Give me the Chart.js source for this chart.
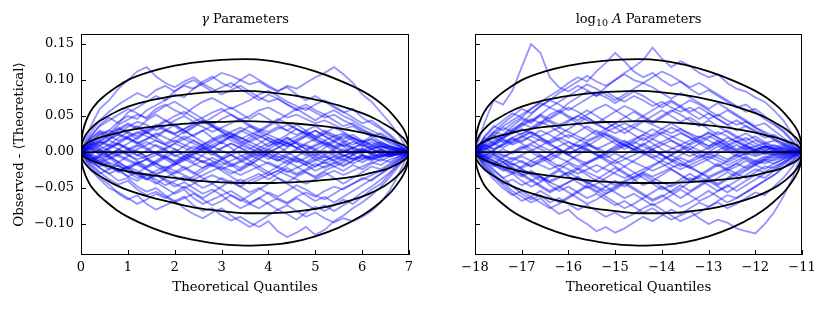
<!doctype html>
<html>
<head>
<title>Q-Q residuals</title>
<script src="https://cdn.jsdelivr.net/npm/chart.js@4.4.1/dist/chart.umd.min.js"></script>
<style>
  body { margin: 0; background: #fff; }
  #wrap { position: relative; width: 830px; height: 309px; }
  canvas { position: absolute; top: 0; }
</style>
</head>
<body>
<div id="wrap">
  <canvas id="gammaChart" width="420" height="309" style="left:0"></canvas>
  <canvas id="logAChart" width="410" height="309" style="left:420px"></canvas>
</div>
<script>
// x positions of the walk samples
var gammaQuantiles = [0,0.2,0.4,0.6,0.8,1.0,1.2,1.4,1.6,1.8,2.0,2.2,2.4,2.6,2.8,3.0,3.2,3.4,3.6,3.8,4.0,4.2,4.4,4.6,4.8,5.0,5.2,5.4,5.6,5.8,6.0,6.2,6.4,6.6,6.8,7.0];
var logAQuantiles = [-18,-17.8,-17.6,-17.4,-17.2,-17,-16.8,-16.6,-16.4,-16.2,-16,-15.8,-15.6,-15.4,-15.2,-15,-14.8,-14.6,-14.4,-14.2,-14,-13.8,-13.6,-13.4,-13.2,-13,-12.8,-12.6,-12.4,-12.2,-12,-11.8,-11.6,-11.4,-11.2,-11];

// observed - theoretical, in units of 0.001
var gammaWalks = [
  [0,35,60,72,88,100,112,118,105,96,90,98,104,95,88,80,86,92,84,76,70,74,66,58,62,55,48,52,44,38,30,26,20,14,8,0],
  [0,12,25,30,42,50,46,58,65,72,80,76,88,95,102,110,106,100,94,98,90,84,92,88,96,104,110,118,108,96,80,70,55,40,22,0],
  [0,20,38,48,40,55,62,70,78,72,85,92,88,98,105,96,90,100,108,100,92,85,90,80,72,78,70,62,55,60,48,40,32,22,10,0],
  [0,18,30,25,38,45,52,48,60,66,58,52,62,70,75,68,60,66,72,80,85,78,70,64,58,66,72,64,56,48,40,44,34,24,12,0],
  [0,10,22,30,24,35,42,38,30,36,44,50,42,48,55,60,52,45,50,58,62,55,48,52,46,40,44,38,32,36,28,22,26,18,8,0],
  [0,8,15,10,20,28,22,30,36,30,25,32,40,35,28,34,40,46,38,32,28,35,30,24,30,36,28,22,26,20,14,18,12,8,4,0],
  [0,15,8,18,25,20,12,18,26,20,14,22,16,10,18,24,16,10,4,12,20,14,8,16,22,15,10,16,8,14,10,4,8,2,5,0],
  [0,5,-4,6,12,4,-5,2,10,4,-6,0,8,2,-4,5,12,6,-2,4,-6,-12,-4,2,-5,4,10,2,-6,0,6,-2,4,-3,2,0],
  [0,-6,-14,-8,-18,-24,-16,-10,-20,-26,-18,-12,-6,-14,-20,-10,-4,-12,-18,-8,-2,-10,-16,-8,-14,-20,-12,-6,-12,-4,-10,-6,-2,-6,-2,0],
  [0,-12,-22,-30,-24,-34,-40,-32,-38,-46,-40,-34,-42,-50,-44,-36,-42,-48,-40,-34,-28,-36,-42,-34,-28,-34,-26,-20,-26,-18,-24,-16,-10,-14,-6,0],
  [0,-15,-28,-38,-45,-40,-52,-60,-55,-62,-70,-64,-58,-66,-74,-68,-60,-66,-72,-78,-70,-64,-70,-62,-56,-62,-54,-48,-52,-44,-38,-32,-26,-18,-10,0],
  [0,-10,-22,-30,-40,-36,-48,-55,-50,-60,-68,-62,-74,-82,-78,-88,-95,-90,-98,-104,-96,-110,-118,-112,-104,-115,-108,-96,-88,-78,-70,-60,-48,-34,-18,0],
  [0,-20,-35,-45,-58,-66,-60,-72,-80,-74,-68,-78,-86,-92,-84,-78,-88,-96,-104,-96,-88,-80,-86,-94,-84,-76,-82,-74,-66,-72,-62,-52,-44,-30,-16,0],
  [0,-8,-16,-24,-18,-28,-36,-30,-42,-50,-58,-52,-64,-72,-66,-60,-70,-78,-72,-64,-56,-62,-54,-46,-52,-60,-66,-58,-50,-44,-36,-40,-30,-20,-10,0],
  [0,6,14,24,32,26,18,28,36,44,38,30,22,30,20,12,22,30,24,16,8,16,24,32,26,18,26,34,28,20,14,22,14,8,4,0],
  [0,-4,4,-6,-14,-6,2,-8,-16,-24,-16,-6,2,10,2,-8,-16,-22,-14,-4,4,12,20,12,4,-4,6,14,8,-2,4,-4,2,-4,0,0],
  [0,22,36,44,52,60,54,46,56,64,70,62,54,46,38,46,52,44,36,30,38,46,40,32,24,30,22,16,24,18,12,18,10,6,2,0],
  [0,-18,-30,-24,-14,-22,-30,-20,-12,-4,4,-6,-14,-4,6,14,6,-4,-12,-20,-28,-20,-12,-20,-28,-36,-28,-36,-44,-36,-28,-20,-24,-16,-8,0],
  [0,14,26,18,30,38,32,44,52,44,36,26,34,42,36,28,20,12,20,28,36,44,52,60,52,44,52,44,36,40,32,24,20,12,6,0],
  [0,-14,-6,-16,-26,-34,-28,-36,-44,-36,-28,-20,-28,-36,-44,-52,-60,-68,-60,-52,-44,-36,-44,-52,-60,-68,-62,-70,-62,-54,-46,-38,-30,-22,-12,0],
  [0,26,44,56,66,74,82,76,86,92,84,94,100,92,84,90,96,88,80,72,80,74,66,60,66,58,52,58,50,44,36,30,24,16,8,0],
  [0,-24,-38,-50,-56,-64,-72,-66,-58,-64,-56,-48,-56,-64,-56,-48,-40,-48,-56,-50,-58,-66,-72,-64,-72,-80,-74,-82,-74,-66,-56,-48,-38,-28,-14,0],
  [0,4,10,16,10,4,-4,-10,-4,4,12,18,12,6,14,20,26,20,14,8,2,-6,-12,-6,2,8,14,8,2,-4,2,8,4,-2,2,0],
  [0,-6,-12,-4,4,-4,-12,-20,-14,-6,-14,-22,-30,-22,-14,-22,-30,-24,-16,-24,-32,-26,-18,-10,-18,-26,-20,-14,-20,-12,-6,-12,-6,-2,-4,0],
  [0,10,18,26,34,28,36,28,20,12,20,28,36,44,36,28,20,28,36,28,20,12,20,12,4,10,16,8,14,6,12,6,10,4,2,0],
  [0,-10,-4,4,12,20,14,6,-2,-10,-18,-10,-2,6,-2,-10,-18,-26,-18,-10,-2,6,14,6,-2,-10,-4,-12,-6,2,-4,-10,-6,-2,-4,0],
  [0,8,2,-6,-14,-22,-16,-24,-32,-26,-34,-40,-34,-26,-18,-26,-34,-42,-36,-30,-38,-30,-22,-30,-24,-16,-22,-16,-10,-16,-10,-4,-8,-4,-2,0],
  [0,18,28,22,32,40,34,26,34,42,50,56,48,40,48,56,62,54,46,54,46,38,30,38,30,22,30,24,18,24,16,10,14,8,4,0],
  [0,-4,-10,-18,-26,-20,-14,-22,-16,-8,0,8,16,8,0,-8,0,8,16,24,16,8,0,-8,-14,-6,2,-4,-10,-4,2,-2,-6,-2,-1,0],
  [0,12,4,-4,4,12,20,28,20,30,38,30,22,14,6,14,22,14,6,-2,-10,-2,6,14,22,30,22,14,22,16,8,14,8,4,2,0],
  [0,-6,-14,-20,-28,-22,-30,-38,-32,-40,-48,-42,-50,-58,-52,-60,-54,-62,-70,-64,-72,-80,-74,-82,-90,-84,-92,-98,-92,-96,-90,-82,-70,-52,-28,0],
  [0,-3,-8,-4,2,-4,-10,-6,0,6,12,6,0,-6,-12,-18,-12,-6,0,6,12,18,12,6,0,-6,-12,-6,0,6,2,-2,2,-2,1,0],
  [0,6,12,18,24,18,12,18,24,30,24,18,24,30,36,30,24,18,24,30,24,18,12,18,24,18,12,6,12,6,10,4,8,4,2,0],
  [0,-8,-14,-20,-26,-20,-26,-32,-26,-20,-26,-32,-38,-32,-26,-20,-26,-32,-26,-20,-14,-20,-26,-32,-26,-20,-14,-20,-14,-8,-14,-8,-12,-6,-3,0],
  [0,4,-2,-8,-2,4,10,4,-2,-8,-14,-8,-2,4,10,16,22,16,10,4,-2,-8,-2,4,10,4,-2,4,10,4,-2,4,0,-2,0,0],
  [0,-10,-16,-10,-4,2,8,14,8,2,-4,-10,-16,-22,-16,-10,-4,2,-4,-10,-16,-22,-28,-22,-16,-10,-16,-10,-4,-10,-4,-8,-4,-6,-2,0],
  [0,10,16,22,16,22,28,22,16,10,16,10,4,10,16,22,28,34,28,22,16,10,16,22,28,22,16,22,16,10,16,10,6,8,4,0],
  [0,2,8,2,-4,-10,-16,-10,-16,-22,-16,-10,-4,2,8,2,-4,-10,-4,2,8,14,8,14,8,2,-4,2,-4,-10,-4,-8,-2,-4,-2,0],
  [0,-12,-6,0,-6,-12,-18,-24,-30,-24,-30,-24,-18,-12,-18,-24,-18,-12,-6,0,-6,-12,-6,-12,-18,-12,-6,-12,-18,-12,-6,-10,-4,-6,-2,0],
  [0,8,14,8,14,20,26,32,38,32,26,32,38,44,38,32,26,20,14,20,26,32,38,32,26,20,26,20,14,20,14,8,12,6,4,0],
  [0,-2,4,10,4,-2,4,10,16,10,4,-2,-8,-14,-8,-14,-20,-14,-8,-2,4,-2,-8,-14,-8,-2,-8,-2,4,-2,4,0,4,0,2,0],
  [0,-14,-20,-14,-20,-26,-32,-38,-32,-38,-44,-50,-44,-38,-32,-38,-44,-38,-44,-38,-32,-26,-32,-38,-44,-38,-32,-26,-32,-26,-20,-14,-18,-10,-6,0],
  [0,6,0,6,12,6,0,-6,0,-6,-12,-6,0,6,0,6,12,6,0,-6,0,6,12,6,12,18,12,6,0,6,0,4,-2,2,0,0]
];

var logAWalks = [
  [0,40,72,66,85,118,150,138,104,90,84,92,86,78,84,76,70,78,72,64,70,62,56,62,54,46,52,44,38,42,34,28,22,16,8,0],
  [0,14,28,24,36,46,40,52,62,56,68,76,84,78,90,100,110,118,128,145,130,118,126,120,110,104,108,96,88,84,76,70,58,44,24,0],
  [0,20,34,44,54,48,60,70,78,86,96,104,98,112,124,138,126,112,104,110,100,92,98,88,80,86,78,70,62,66,56,46,38,28,14,0],
  [0,10,22,34,28,40,52,64,72,82,90,98,106,98,92,100,108,100,96,104,112,106,98,90,96,88,80,72,64,56,60,50,40,30,16,0],
  [0,-16,-30,-42,-54,-62,-70,-64,-76,-86,-80,-92,-100,-110,-104,-112,-106,-98,-90,-96,-88,-80,-86,-78,-70,-76,-68,-60,-64,-56,-48,-40,-32,-22,-12,0],
  [0,-8,-18,-26,-20,-32,-40,-34,-46,-54,-48,-56,-64,-58,-66,-74,-68,-76,-84,-78,-86,-94,-88,-82,-92,-100,-94,-98,-106,-110,-113,-100,-84,-62,-36,0],
  [0,-12,-24,-36,-48,-58,-66,-60,-70,-64,-72,-80,-74,-82,-90,-84,-92,-86,-78,-72,-80,-88,-96,-90,-84,-76,-70,-78,-72,-64,-56,-60,-48,-36,-20,0],
  [0,-20,-34,-46,-58,-68,-62,-54,-62,-70,-62,-54,-46,-54,-62,-70,-78,-72,-64,-56,-48,-56,-64,-56,-48,-40,-48,-56,-48,-40,-32,-36,-26,-18,-8,0],
  [0,12,24,18,30,38,46,40,52,58,50,44,52,60,66,58,50,42,50,58,66,72,64,56,62,54,46,38,44,36,30,24,18,12,6,0],
  [0,-6,2,10,18,12,4,-4,-12,-4,6,14,22,30,24,16,8,16,24,32,24,16,8,0,-8,0,8,2,-6,-2,4,-2,2,-2,0,0],
  [0,8,16,24,32,40,34,42,36,28,20,28,36,28,20,12,4,12,20,12,4,-4,4,12,20,28,20,12,4,10,16,10,4,6,2,0],
  [0,-10,-20,-14,-24,-32,-26,-34,-42,-36,-28,-36,-44,-38,-30,-22,-30,-38,-46,-40,-32,-24,-32,-40,-34,-26,-18,-26,-20,-12,-18,-12,-6,-8,-4,0],
  [0,6,-2,-10,-18,-12,-20,-12,-4,4,-4,-12,-20,-28,-20,-12,-4,4,12,4,-4,-12,-20,-12,-4,-12,-20,-12,-4,-10,-16,-10,-4,-6,-2,0],
  [0,16,28,40,50,60,54,64,72,66,58,66,74,82,76,68,76,84,78,70,62,70,62,54,46,54,46,38,30,36,28,20,24,16,8,0],
  [0,-14,-26,-36,-30,-40,-48,-42,-34,-26,-34,-42,-50,-44,-36,-28,-20,-28,-36,-44,-52,-46,-38,-30,-38,-46,-54,-48,-40,-32,-24,-28,-20,-14,-6,0],
  [0,4,12,6,14,22,16,8,16,24,32,40,48,40,32,40,48,56,48,40,48,56,64,72,66,58,50,58,50,42,34,26,18,12,6,0],
  [0,-4,-12,-20,-28,-20,-12,-4,-12,-20,-12,-4,4,-4,-12,-20,-28,-36,-28,-20,-12,-4,-12,-20,-28,-36,-44,-36,-28,-20,-12,-16,-10,-6,-2,0],
  [0,22,36,30,40,48,42,50,42,34,42,50,58,50,42,34,26,34,42,50,58,50,42,48,40,32,24,30,22,16,22,14,8,10,4,0],
  [0,-18,-32,-44,-38,-46,-40,-48,-56,-50,-42,-34,-42,-50,-58,-52,-44,-52,-60,-68,-62,-54,-46,-54,-46,-38,-46,-38,-30,-36,-28,-20,-22,-14,-6,0],
  [0,10,4,12,20,14,22,30,24,16,8,0,8,16,24,18,10,2,10,18,26,34,28,20,12,4,12,20,14,8,2,8,4,0,2,0],
  [0,-8,-16,-8,0,8,0,-8,-16,-24,-32,-24,-16,-8,0,8,16,8,0,-8,-16,-24,-32,-40,-32,-24,-16,-24,-16,-8,-14,-8,-2,-4,-2,0],
  [0,14,26,36,44,52,60,68,62,70,78,86,94,88,80,72,80,88,96,90,82,74,82,76,68,60,68,60,52,44,36,40,30,20,10,0],
  [0,-12,-4,-14,-22,-30,-38,-46,-54,-48,-56,-64,-72,-66,-58,-50,-42,-50,-58,-66,-60,-68,-76,-70,-62,-54,-62,-70,-64,-56,-48,-40,-32,-22,-12,0],
  [0,2,10,18,12,20,28,20,12,4,-4,4,12,4,-4,-12,-20,-12,-4,4,-4,-12,-4,4,12,20,28,22,14,20,12,6,10,4,2,0],
  [0,20,12,22,30,24,32,40,48,56,48,40,32,24,32,40,32,24,16,24,32,40,32,24,16,8,16,8,14,8,2,8,4,2,0,0],
  [0,-22,-38,-50,-60,-54,-62,-70,-78,-72,-64,-56,-48,-56,-48,-40,-48,-40,-32,-40,-48,-56,-50,-42,-34,-42,-36,-28,-34,-26,-18,-24,-16,-10,-4,0],
  [0,6,12,20,28,36,44,52,46,54,62,56,48,40,48,56,64,58,50,42,50,58,52,44,36,44,36,28,20,26,18,12,16,10,4,0],
  [0,-6,-14,-22,-16,-24,-32,-40,-32,-24,-16,-24,-32,-40,-48,-56,-64,-58,-66,-74,-68,-60,-52,-60,-68,-62,-54,-46,-54,-46,-38,-30,-24,-16,-8,0],
  [0,4,10,16,10,16,22,16,10,4,-2,4,10,4,10,16,10,4,-2,-8,-2,4,10,16,22,16,10,4,10,4,8,2,6,2,1,0],
  [0,-6,-12,-18,-12,-6,-12,-18,-24,-18,-24,-30,-24,-18,-24,-30,-36,-30,-24,-18,-12,-18,-24,-18,-12,-6,-12,-18,-12,-6,-12,-6,-8,-4,-2,0],
  [0,10,4,10,16,22,28,22,28,34,28,22,16,22,28,34,40,34,28,22,28,22,16,10,16,22,16,10,16,10,4,8,4,6,2,0],
  [0,-4,2,-4,-10,-4,2,8,2,8,14,8,2,-4,-10,-16,-10,-4,2,-4,-10,-4,2,8,2,-4,2,8,2,-4,2,-2,2,-2,0,0],
  [0,8,14,20,26,32,26,20,14,20,14,8,14,20,26,20,14,8,2,8,14,20,26,20,14,8,14,8,2,8,2,6,2,4,2,0],
  [0,-10,-16,-22,-28,-34,-28,-34,-40,-34,-28,-22,-28,-34,-40,-46,-40,-34,-28,-34,-28,-22,-16,-22,-28,-34,-28,-22,-16,-22,-16,-10,-12,-8,-4,0],
  [0,2,-4,-10,-16,-22,-16,-10,-4,2,-4,-10,-16,-10,-4,2,8,14,8,2,-4,-10,-16,-22,-16,-10,-4,-10,-4,2,-4,0,-4,-2,0,0],
  [0,14,20,14,20,26,32,38,44,38,44,50,44,38,32,26,32,38,44,38,32,26,32,26,20,26,20,14,20,14,8,12,6,8,4,0],
  [0,-2,-8,-14,-8,-14,-20,-14,-8,-2,4,10,4,-2,-8,-2,-8,-14,-20,-26,-20,-14,-8,-14,-8,-2,-8,-14,-8,-2,-6,-2,-4,-2,-1,0],
  [0,6,0,-6,0,6,12,18,12,18,24,18,12,6,0,6,12,18,24,18,12,6,0,-6,0,6,12,6,0,6,0,4,0,2,0,0],
  [0,-12,-18,-24,-30,-24,-30,-36,-42,-48,-42,-36,-42,-48,-54,-48,-42,-36,-30,-36,-42,-48,-42,-36,-42,-36,-30,-24,-30,-24,-18,-12,-16,-10,-6,0],
  [0,-8,-2,4,-2,4,10,4,-2,-8,-14,-20,-14,-8,-2,4,10,4,-2,4,10,16,10,4,-2,-8,-2,4,-2,4,-2,2,-2,0,0,0]
];

// confidence bands (1, 2, 3 sigma)
var bandGammaX = [0,0.02,0.05,0.1,0.2,0.35,0.5,0.75,1,1.5,2,2.5,3,3.5,4,4.5,5,5.5,6,6.25,6.5,6.65,6.8,6.9,6.95,6.98,7];
var bandLogAX = [-18,-17.98,-17.95,-17.9,-17.8,-17.65,-17.5,-17.25,-17,-16.5,-16,-15.5,-15,-14.5,-14,-13.5,-13,-12.5,-12,-11.75,-11.5,-11.35,-11.2,-11.1,-11.05,-11.02,-11];
var band1Upper = [0,0.005,0.008,0.011,0.015,0.019,0.022,0.026,0.030,0.035,0.038,0.041,0.042,0.043,0.042,0.040,0.037,0.033,0.027,0.023,0.019,0.016,0.012,0.009,0.006,0.004,0];
var band2Upper = [0,0.011,0.017,0.024,0.032,0.041,0.047,0.056,0.063,0.072,0.078,0.082,0.084,0.085,0.083,0.079,0.073,0.065,0.054,0.047,0.038,0.032,0.024,0.018,0.013,0.008,0];
var band3Upper = [0,0.020,0.031,0.042,0.056,0.069,0.078,0.090,0.100,0.112,0.120,0.125,0.128,0.129,0.127,0.121,0.112,0.100,0.085,0.075,0.062,0.052,0.040,0.030,0.022,0.014,0];
var band1Lower = [0,-0.004,-0.006,-0.008,-0.011,-0.015,-0.018,-0.023,-0.027,-0.032,-0.036,-0.040,-0.042,-0.043,-0.043,-0.042,-0.040,-0.037,-0.032,-0.028,-0.024,-0.020,-0.015,-0.011,-0.008,-0.005,0];
var band2Lower = [0,-0.008,-0.012,-0.017,-0.024,-0.031,-0.037,-0.046,-0.053,-0.063,-0.071,-0.078,-0.082,-0.085,-0.085,-0.083,-0.079,-0.072,-0.062,-0.055,-0.046,-0.039,-0.030,-0.022,-0.016,-0.010,0];
var band3Lower = [0,-0.015,-0.024,-0.033,-0.046,-0.058,-0.067,-0.080,-0.090,-0.105,-0.116,-0.123,-0.128,-0.130,-0.129,-0.125,-0.117,-0.105,-0.088,-0.077,-0.063,-0.053,-0.040,-0.029,-0.021,-0.013,0];

var yTicksMin = -0.143, yTicksMax = 0.164;

Chart.defaults.font.family = "'DejaVu Serif', serif";
Chart.defaults.color = '#000';

function toPoints(xs, ys, scale) {
  return ys.map(function(v, i) { return {x: xs[i], y: v * scale}; });
}

function buildDatasets(xs, walks, bandX) {
  var sets = [];
  var bands = [band3Upper, band2Upper, band1Upper, band1Lower, band2Lower, band3Lower];
  bands.forEach(function(b, i) {
    if (b.length !== bandX.length) throw new Error('band ' + i + ' has ' + b.length + ' points');
    sets.push({data: toPoints(bandX, b, 1), borderColor: '#000', borderWidth: 1.8,
      pointRadius: 0, cubicInterpolationMode: 'monotone'});
  });
  sets.push({data: toPoints([xs[0], xs[xs.length - 1]], [0, 0], 1), borderColor: '#000',
    borderWidth: 1.8, pointRadius: 0});
  walks.forEach(function(w, i) {
    if (w.length !== xs.length) throw new Error('walk ' + i + ' has ' + w.length + ' points');
    sets.push({data: toPoints(xs, w, 0.001), borderColor: 'rgba(0,0,255,0.42)',
      borderWidth: 1.8, pointRadius: 0, tension: 0});
  });
  return sets;
}

// frame, inward ticks and the panel title
var framePlugin = {
  id: 'frame',
  afterDraw: function(chart, args, opts) {
    var ctx = chart.ctx, a = chart.chartArea;
    var xs = chart.scales.x, ys = chart.scales.y;
    ctx.save();
    ctx.strokeStyle = '#000';
    ctx.lineWidth = 1;
    ctx.beginPath();
    xs.ticks.forEach(function(t) {
      var px = Math.round(xs.getPixelForValue(t.value)) + 0.5;
      ctx.moveTo(px, a.bottom); ctx.lineTo(px, a.bottom - 5);
    });
    ys.ticks.forEach(function(t) {
      var py = Math.round(ys.getPixelForValue(t.value)) + 0.5;
      ctx.moveTo(a.left, py); ctx.lineTo(a.left + 5, py);
    });
    ctx.stroke();
    ctx.strokeRect(Math.round(a.left) + 0.5, Math.round(a.top) + 0.5,
      Math.round(a.width) - 1, Math.round(a.height) - 1);

    var parts = opts.parts, w = 0;
    parts.forEach(function(p) { ctx.font = p.font; w += ctx.measureText(p.text).width; });
    var x = (a.left + a.right) / 2 - w / 2;
    ctx.fillStyle = '#000';
    ctx.textBaseline = 'alphabetic';
    parts.forEach(function(p) {
      ctx.font = p.font;
      ctx.fillText(p.text, x, 23 + (p.dy || 0));
      x += ctx.measureText(p.text).width;
    });
    ctx.restore();
  }
};

function fmtMinus(v) {
  return v < 0 ? '\u2212' + Math.abs(v) : String(v);
}

function fmtY(v) {
  if (Math.abs(v) < 1e-9) return '0.00';
  return (v < 0 ? '\u2212' : '') + Math.abs(v).toFixed(2);
}

function makeChart(id, xs, walks, bandX, yWidth, padRight, yLabels, yTitle, parts) {
  new Chart(document.getElementById(id), {
    type: 'line',
    data: {datasets: buildDatasets(xs, walks, bandX)},
    options: {
      responsive: false,
      animation: false,
      layout: {padding: {top: 34, right: padRight, bottom: 0, left: 0}},
      plugins: {legend: {display: false}, tooltip: {enabled: false}, frame: {parts: parts}},
      scales: {
        x: {
          type: 'linear', min: xs[0], max: xs[xs.length - 1],
          grid: {display: false, drawTicks: false}, border: {display: false},
          ticks: {stepSize: 1, padding: 5, font: {size: 13}, maxRotation: 0,
            includeBounds: false, callback: fmtMinus},
          title: {display: true, text: 'Theoretical Quantiles', font: {size: 13.3},
            padding: {top: 0, bottom: 13}},
          afterFit: function(s) { s.height = 54; }
        },
        y: {
          type: 'linear', min: yTicksMin, max: yTicksMax,
          grid: {display: false, drawTicks: false}, border: {display: false},
          ticks: {stepSize: 0.05, padding: 7, font: {size: 13}, includeBounds: false,
            callback: function(v) { return yLabels ? fmtY(v) : ''; }},
          title: {display: !!yTitle, text: yTitle || '', font: {size: 13.3},
            padding: {top: 12, bottom: 0}},
          afterFit: function(s) { s.width = yWidth; }
        }
      }
    },
    plugins: [framePlugin]
  });
}

var serif = "'DejaVu Serif', serif";
makeChart('gammaChart', gammaQuantiles, gammaWalks, bandGammaX, 81, 11, true,
  'Observed - \u27E8Theoretical\u27E9',
  [{text: '\u03B3', font: 'italic 13px ' + serif}, {text: ' Parameters', font: '13px ' + serif}]);
makeChart('logAChart', logAQuantiles, logAWalks, bandLogAX, 55, 28, false, null,
  [{text: 'log', font: '13px ' + serif}, {text: '10', font: '9.5px ' + serif, dy: 3},
   {text: ' ', font: '13px ' + serif}, {text: 'A', font: 'italic 13px ' + serif},
   {text: ' Parameters', font: '13px ' + serif}]);
</script>
</body>
</html>
